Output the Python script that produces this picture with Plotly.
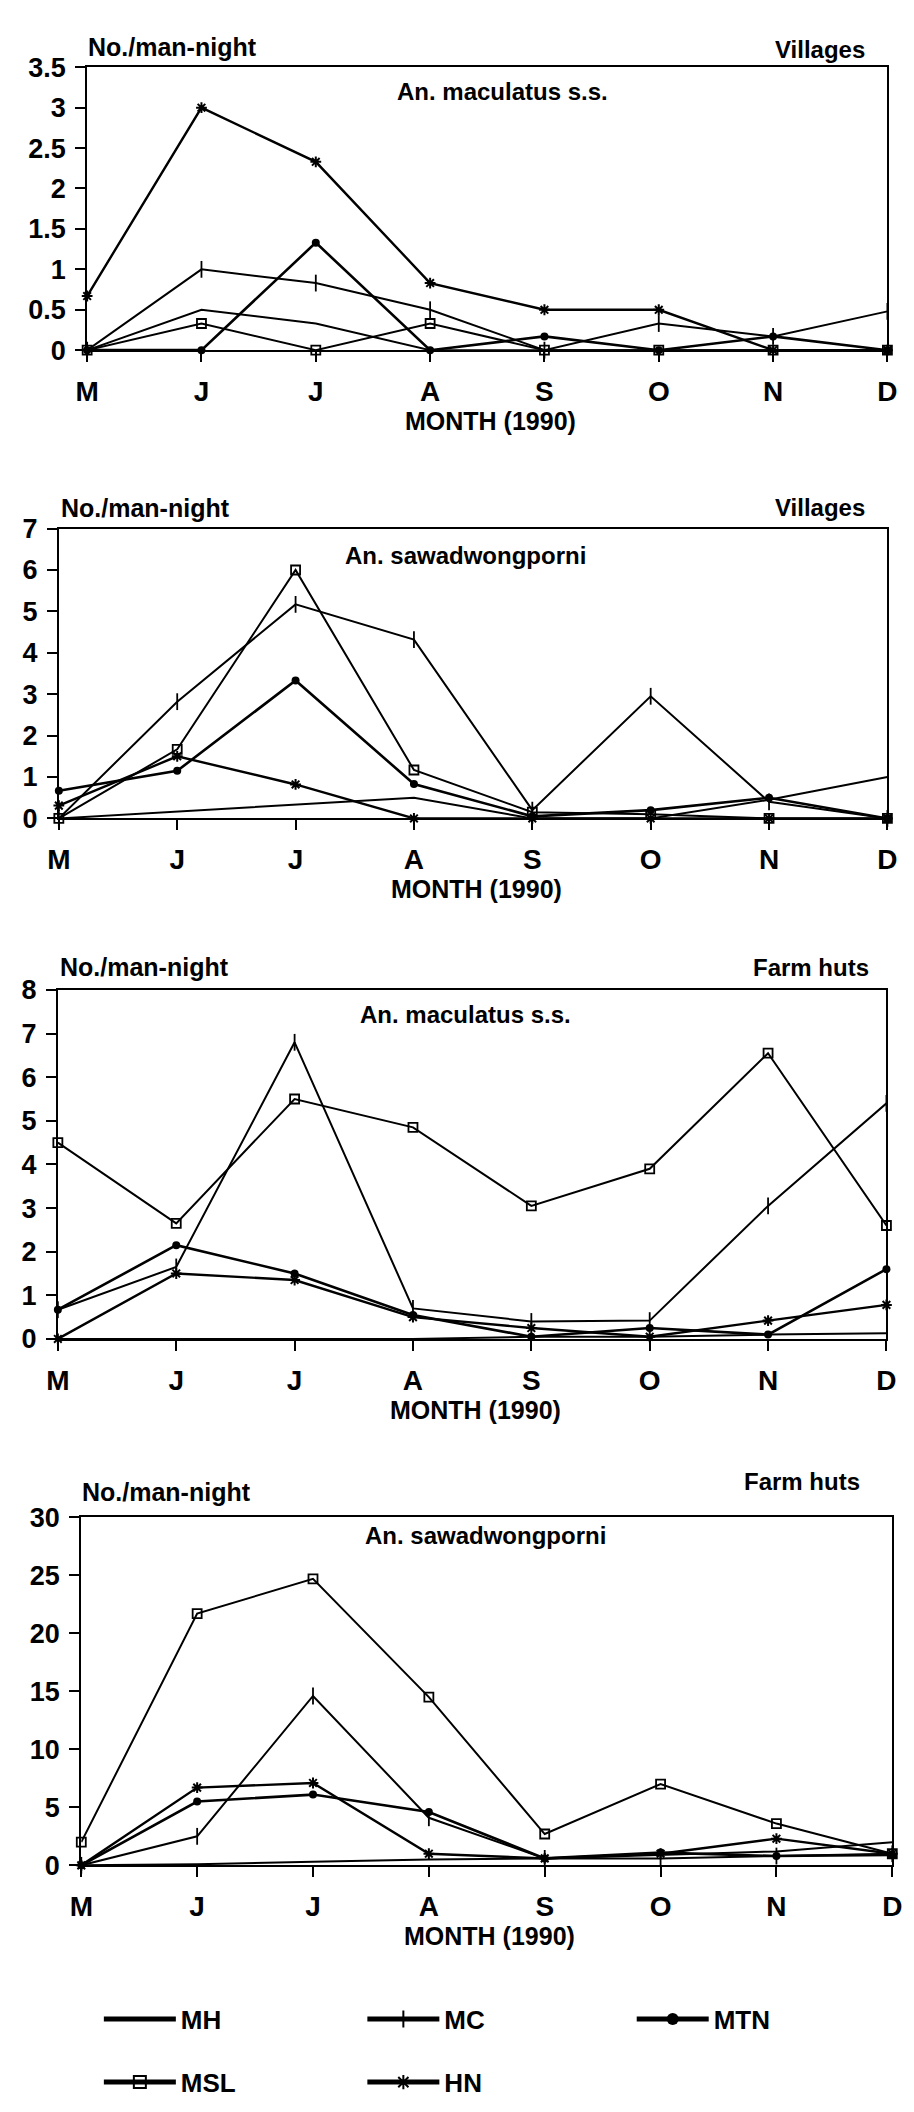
import plotly.graph_objects as go

W, H = 914, 2112
FONT = "Liberation Sans, Arial, Helvetica, sans-serif"

months = ["M", "J", "J", "A", "S", "O", "N", "D"]
series_names = ["MH", "MC", "MTN", "MSL", "HN"]

# Villages - An. maculatus s.s. (No./man-night)
vil_mac_MH = [0, 0.5, 0.33, 0, 0, 0, 0, 0]
vil_mac_MC = [0, 1.0, 0.83, 0.5, 0, 0.33, 0.17, 0.48]
vil_mac_MTN = [0, 0, 1.33, 0, 0.17, 0, 0.17, 0]
vil_mac_MSL = [0, 0.33, 0, 0.33, 0, 0, 0, 0]
vil_mac_HN = [0.67, 3.0, 2.33, 0.83, 0.5, 0.5, 0, 0]

# Villages - An. sawadwongporni
vil_saw_MH = [0, 0.17, 0.33, 0.5, 0, 0, 0.45, 1.0]
vil_saw_MC = [0, 2.82, 5.17, 4.32, 0.2, 2.95, 0.4, 0]
vil_saw_MTN = [0.67, 1.15, 3.33, 0.83, 0.05, 0.2, 0.5, 0]
vil_saw_MSL = [0, 1.67, 6.0, 1.17, 0.15, 0.1, 0, 0]
vil_saw_HN = [0.31, 1.5, 0.82, 0, 0, 0, 0, 0]

# Farm huts - An. maculatus s.s.
farm_mac_MH = [0, 0, 0, 0, 0.05, 0.05, 0.1, 0.13]
farm_mac_MC = [0.67, 1.65, 6.8, 0.7, 0.4, 0.42, 3.05, 5.4]
farm_mac_MTN = [0.67, 2.15, 1.5, 0.55, 0.05, 0.25, 0.1, 1.6]
farm_mac_MSL = [4.5, 2.65, 5.5, 4.85, 3.05, 3.9, 6.55, 2.6]
farm_mac_HN = [0, 1.5, 1.35, 0.5, 0.25, 0.05, 0.42, 0.78]

# Farm huts - An. sawadwongporni
farm_saw_MH = [0, 0.1, 0.3, 0.5, 0.6, 0.9, 1.2, 2.0]
farm_saw_MC = [0, 2.5, 14.6, 4.1, 0.6, 0.6, 0.8, 1.0]
farm_saw_MTN = [0, 5.5, 6.1, 4.6, 0.6, 1.1, 0.8, 0.9]
farm_saw_MSL = [2.0, 21.7, 24.7, 14.5, 2.7, 7.0, 3.6, 1.0]
farm_saw_HN = [0, 6.7, 7.1, 1.0, 0.6, 1.0, 2.3, 1.0]

panel_data = [
    [vil_mac_MH, vil_mac_MC, vil_mac_MTN, vil_mac_MSL, vil_mac_HN],
    [vil_saw_MH, vil_saw_MC, vil_saw_MTN, vil_saw_MSL, vil_saw_HN],
    [farm_mac_MH, farm_mac_MC, farm_mac_MTN, farm_mac_MSL, farm_mac_HN],
    [farm_saw_MH, farm_saw_MC, farm_saw_MTN, farm_saw_MSL, farm_saw_HN],
]
panel_place = ["Villages", "Villages", "Farm huts", "Farm huts"]
panel_species = ["An. maculatus s.s.", "An. sawadwongporni",
                 "An. maculatus s.s.", "An. sawadwongporni"]
panel_ymax = [3.5, 7, 8, 30]
panel_dtick = [0.5, 1, 1, 5]

# pixel geometry of each panel: plot box and text anchors
geom = [
    dict(x0=77, x1=897, top=53, bottom=340, hdr=(76, 32), place=(876, 35),
         sp=(503, 78)),
    dict(x0=48, x1=897, top=521, bottom=815, hdr=(48, 500), place=(876, 500),
         sp=(465, 548)),
    dict(x0=47, x1=896, top=989, bottom=1343, hdr=(47, 966), place=(880, 966),
         sp=(465, 1014)),
    dict(x0=71, x1=902, top=1524, bottom=1877, hdr=(70, 1498), place=(871, 1488),
         sp=(485, 1542)),
]
MONTH_TITLE_GAP = 72  # px between the x axis line and the "MONTH (1990)" centre

styles = {
    "MH": dict(mode="lines", line=dict(color="black", width=2)),
    "MC": dict(mode="lines+markers", line=dict(color="black", width=2),
               marker=dict(symbol="line-ns", size=12, color="black",
                           line=dict(color="black", width=1.8))),
    "MTN": dict(mode="lines+markers", line=dict(color="black", width=2.6),
                marker=dict(symbol="circle", size=8, color="black",
                            line=dict(color="black", width=0))),
    "MSL": dict(mode="lines+markers", line=dict(color="black", width=2),
                marker=dict(symbol="square-open", size=9, color="black",
                            line=dict(color="black", width=1.8))),
    "HN": dict(mode="lines+markers", line=dict(color="black", width=2.4),
               marker=dict(symbol="asterisk", size=9, color="black",
                           line=dict(color="black", width=2))),
}
# one small legend box per series, laid out as 3 + 2 entries
legend_slot = {"MH": ("legend", 89, 2033), "MC": ("legend2", 359, 2033),
               "MTN": ("legend3", 635, 2033), "MSL": ("legend4", 89, 2097),
               "HN": ("legend5", 359, 2097)}

fig = go.Figure()
x_idx = list(range(len(months)))

for p, data in enumerate(panel_data):
    sfx = "" if p == 0 else str(p + 1)
    for name, vals in zip(series_names, data):
        fig.add_trace(go.Scatter(
            x=x_idx, y=vals, name=name, xaxis="x" + sfx, yaxis="y" + sfx,
            showlegend=(p == 0), legend=legend_slot[name][0], cliponaxis=False,
            hoverinfo="skip", **styles[name]))

layout = dict(
    width=W, height=H, margin=dict(l=0, r=0, t=0, b=0),
    paper_bgcolor="white", plot_bgcolor="white",
    font=dict(family=FONT, color="black"),
    annotations=[],
)


def ann(text, px, py, xanchor, size):
    return dict(text=text, x=px / W, y=1 - py / H, xref="paper", yref="paper",
                xanchor=xanchor, yanchor="middle", showarrow=False,
                font=dict(size=size, family=FONT, weight="bold", color="black"))


for p, g in enumerate(geom):
    sfx = "" if p == 0 else str(p + 1)
    ymax = panel_ymax[p]
    dt = panel_dtick[p]
    n = int(round(ymax / dt))
    yvals = [round(i * dt, 2) for i in range(n + 1)]
    ytext = [("%g" % v) for v in yvals]
    layout["xaxis" + sfx] = dict(
        domain=[g["x0"] / W, g["x1"] / W], anchor="y" + sfx, range=[0, 7],
        tickmode="array", tickvals=x_idx, ticktext=months,
        showline=True, mirror=True, linecolor="black", linewidth=2,
        ticks="outside", ticklen=10, tickwidth=1.5, tickcolor="black",
        ticklabelstandoff=5,
        tickfont=dict(size=28, family=FONT, weight="bold"),
        showgrid=False, zeroline=False, fixedrange=True)
    layout["yaxis" + sfx] = dict(
        domain=[1 - g["bottom"] / H, 1 - g["top"] / H], anchor="x" + sfx,
        range=[0, ymax], tickmode="array", tickvals=yvals, ticktext=ytext,
        showline=True, mirror=True, linecolor="black", linewidth=2,
        ticks="outside", ticklen=10, tickwidth=1.5, tickcolor="black",
        ticklabelstandoff=4,
        tickfont=dict(size=27, family=FONT, weight="bold"),
        showgrid=False, zeroline=False, fixedrange=True)

    layout["annotations"] += [
        ann("No./man-night", g["hdr"][0], g["hdr"][1], "left", 25),
        ann(panel_place[p], g["place"][0], g["place"][1], "right", 24),
        ann(panel_species[p], g["sp"][0], g["sp"][1], "center", 24),
        ann("MONTH (1990)", (g["x0"] + g["x1"]) / 2 + 3,
            g["bottom"] + MONTH_TITLE_GAP, "center", 25),
    ]

for name, (key, lx, ly) in legend_slot.items():
    layout[key] = dict(
        orientation="v", x=lx / W, y=1 - ly / H, xanchor="left", yanchor="middle",
        itemwidth=72, bgcolor="rgba(0,0,0,0)", itemsizing="constant",
        font=dict(size=26, family=FONT, weight="bold", color="black"))

fig.update_layout(**layout)
fig.write_html("out.html")
